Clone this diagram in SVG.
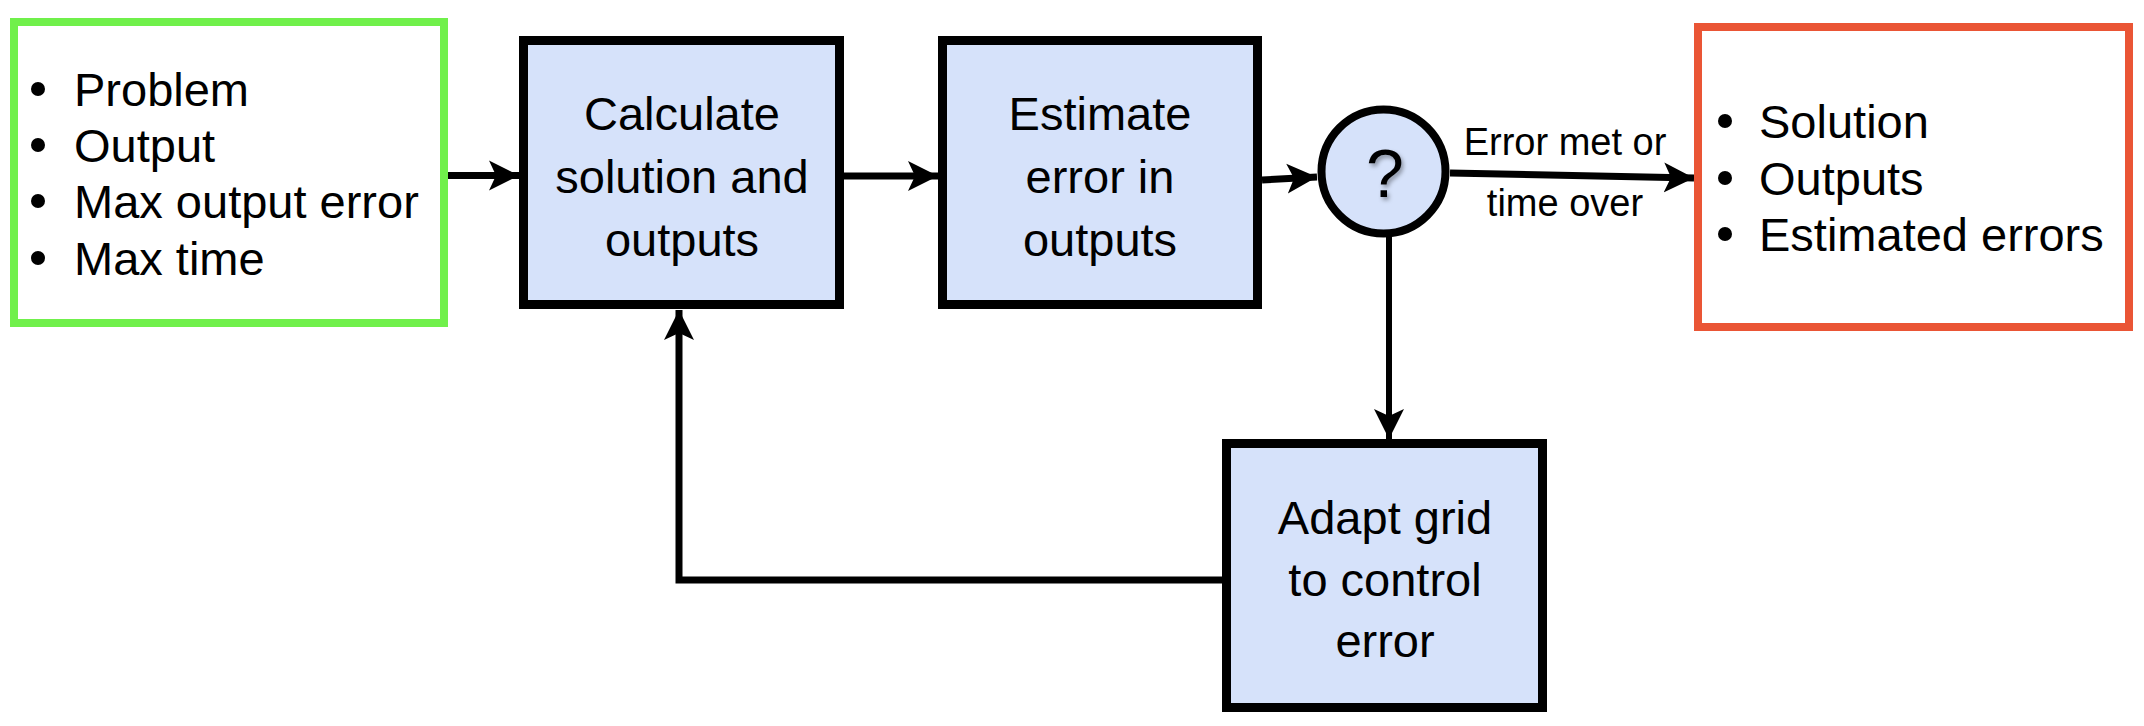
<svg xmlns="http://www.w3.org/2000/svg" width="2144" height="726" viewBox="0 0 2144 726">
<style>
  .box{fill:#D6E2FA;stroke:#000;stroke-width:9}
  .t{font-family:"Liberation Sans",Arial,sans-serif;font-size:47px;fill:#000}
  .c{text-anchor:middle}
  .dot{fill:#000}
  .lbl{font-family:"Liberation Sans",Arial,sans-serif;font-size:38px;fill:#000;text-anchor:middle}
  .con{fill:none;stroke:#000;stroke-width:7}
</style>
<defs>
  <marker id="ah" markerUnits="userSpaceOnUse" markerWidth="32" markerHeight="32" viewBox="0 -16 32 32" refX="30" refY="0" orient="auto">
    <path d="M0,-15 L30,0 L0,15 L7,0 Z" fill="#000"/>
  </marker>
  <filter id="sh" x="-20%" y="-20%" width="150%" height="150%">
    <feDropShadow dx="2" dy="3" stdDeviation="2" flood-color="#000" flood-opacity="0.35"/>
  </filter>
</defs>
<rect width="2144" height="726" fill="#fff"/>

<g id="connectors">
  <line class="con" x1="448" y1="175.5" x2="519" y2="175.5" marker-end="url(#ah)"/>
  <line class="con" x1="844" y1="176" x2="938" y2="176" marker-end="url(#ah)"/>
  <line class="con" x1="1262" y1="180" x2="1317" y2="177" marker-end="url(#ah)"/>
  <line class="con" x1="1450" y1="173" x2="1694" y2="178" marker-end="url(#ah)"/>
  <line class="con" style="stroke-width:6" x1="1389" y1="237" x2="1389" y2="439" marker-end="url(#ah)"/>
  <polyline class="con" points="1222,580 679,580 679,310" marker-end="url(#ah)"/>
  <text class="lbl" x="1565" y="155">Error met or</text>
  <text class="lbl" x="1565" y="216">time over</text>
</g>

<g id="inputs">
  <rect x="14" y="22" width="430" height="301" fill="#fff" stroke="#70F04B" stroke-width="8"/>
  <circle class="dot" cx="38" cy="89" r="7"/>
  <text class="t" x="74" y="106">Problem</text>
  <circle class="dot" cx="38" cy="145" r="7"/>
  <text class="t" x="74" y="162">Output</text>
  <circle class="dot" cx="38" cy="201" r="7"/>
  <text class="t" x="74" y="218">Max output error</text>
  <circle class="dot" cx="38" cy="258" r="7"/>
  <text class="t" x="74" y="275">Max time</text>
</g>

<g id="calculate">
  <rect class="box" x="523.5" y="40.5" width="316" height="264"/>
  <text class="t c" x="682" y="130">Calculate</text>
  <text class="t c" x="682" y="193">solution and</text>
  <text class="t c" x="682" y="256">outputs</text>
</g>

<g id="estimate">
  <rect class="box" x="942.5" y="40.5" width="315" height="264"/>
  <text class="t c" x="1100" y="130">Estimate</text>
  <text class="t c" x="1100" y="193">error in</text>
  <text class="t c" x="1100" y="256">outputs</text>
</g>

<g id="decision">
  <circle cx="1383.5" cy="171.5" r="62" fill="#D6E2FA" stroke="#000" stroke-width="8"/>
  <text class="t c" x="1385" y="197" style="font-size:68px" filter="url(#sh)">?</text>
</g>

<g id="outputs">
  <rect x="1698" y="27" width="431" height="300" fill="#fff" stroke="#EA5535" stroke-width="8"/>
  <circle class="dot" cx="1725" cy="121" r="7"/>
  <text class="t" x="1759" y="138">Solution</text>
  <circle class="dot" cx="1725" cy="178" r="7"/>
  <text class="t" x="1759" y="195">Outputs</text>
  <circle class="dot" cx="1725" cy="234" r="7"/>
  <text class="t" x="1759" y="251">Estimated errors</text>
</g>

<g id="adapt">
  <rect class="box" x="1226.5" y="443.5" width="316" height="264"/>
  <text class="t c" x="1385" y="534">Adapt grid</text>
  <text class="t c" x="1385" y="596">to control</text>
  <text class="t c" x="1385" y="657">error</text>
</g>
</svg>
